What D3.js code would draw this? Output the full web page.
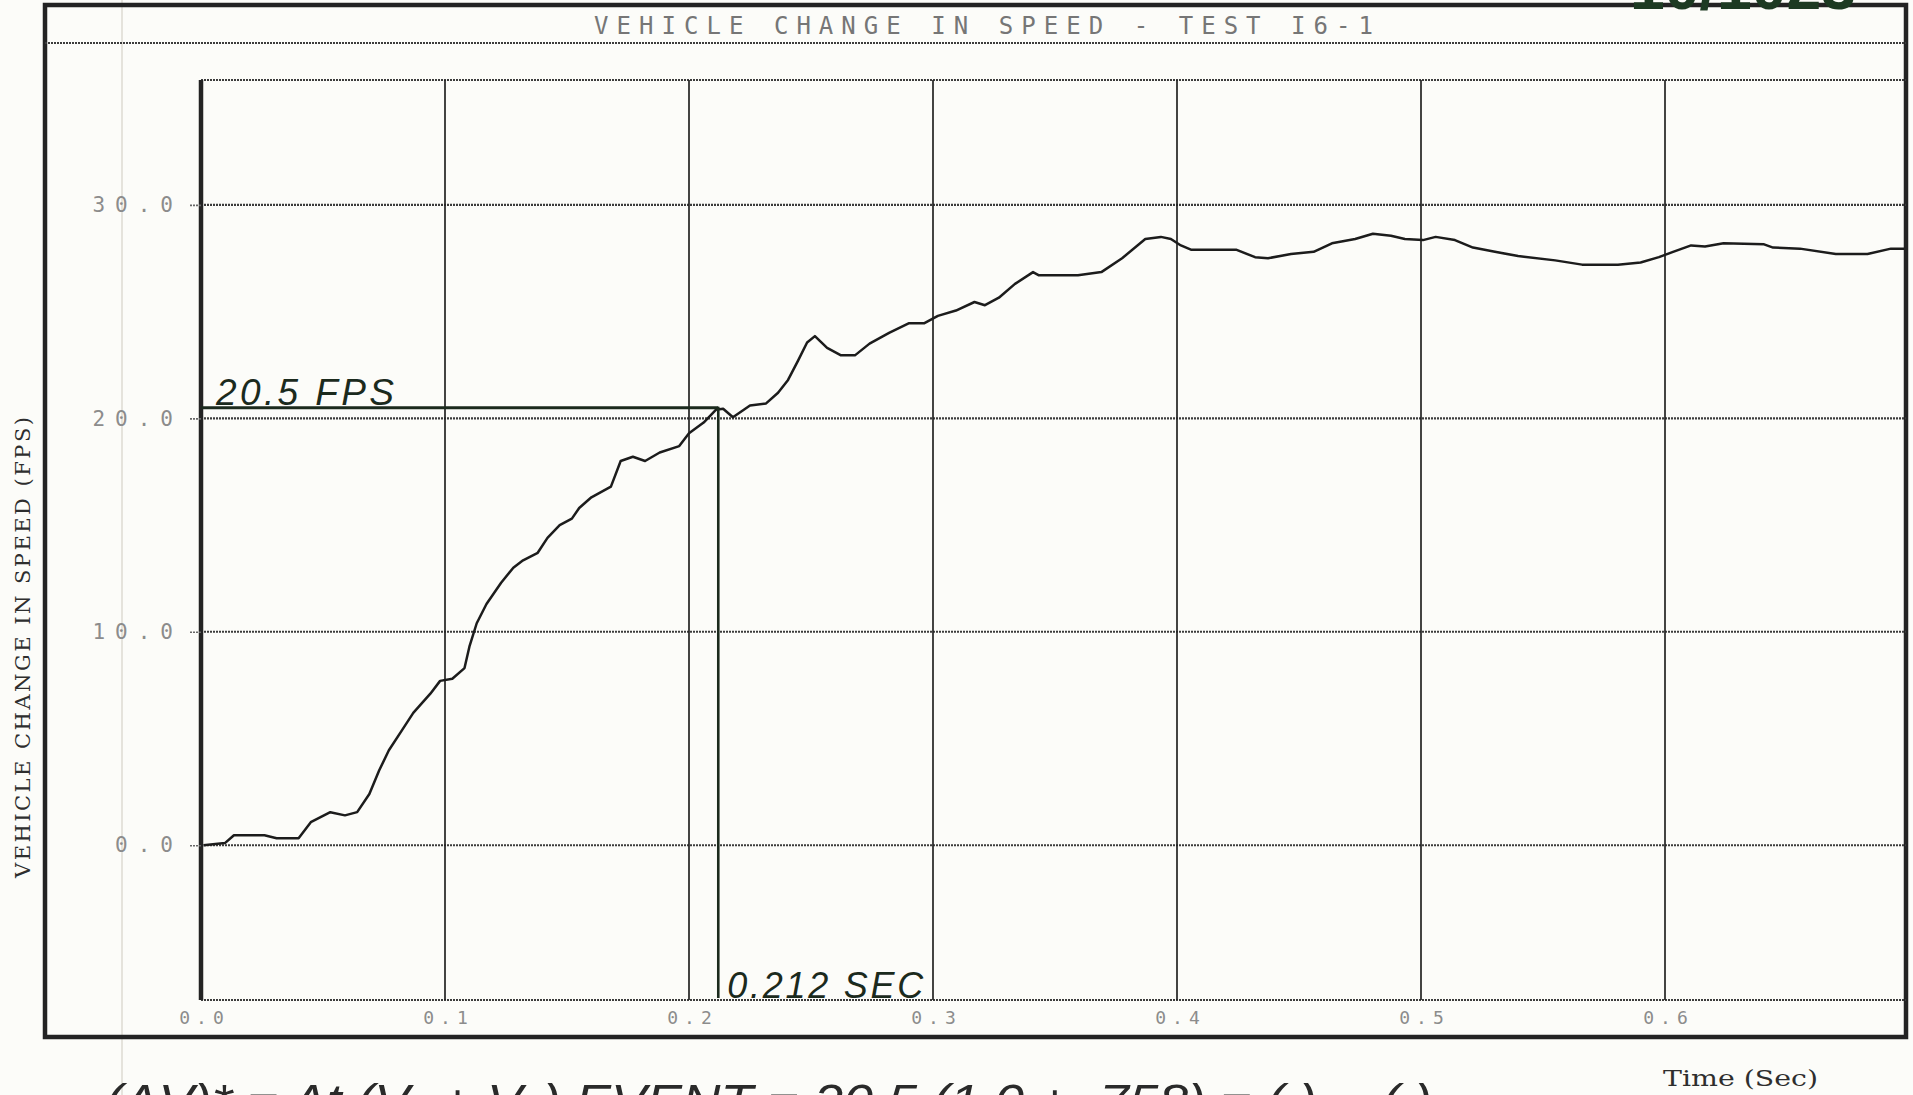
<!DOCTYPE html>
<html>
<head>
<meta charset="utf-8">
<script src="https://cdn.jsdelivr.net/npm/d3@7"></script>
<style>
  html, body { margin: 0; padding: 0; background: #fcfcf9; }
  svg { display: block; }
</style>
</head>
<body>
<svg id="chart" width="1913" height="1095"></svg>
<script>
// ---- data ----
const chartTitle = "VEHICLE CHANGE IN SPEED - TEST I6-1";
const yAxisTitle = "VEHICLE CHANGE IN SPEED (FPS)";
const xAxisTitle = "Time (Sec)";
const xTickValues = [0.0, 0.1, 0.2, 0.3, 0.4, 0.5, 0.6];
const yTickValues = [0.0, 10.0, 20.0, 30.0];
const xDomain = [0, 0.7];
const yDomain = [-7.25, 35.85];

const timeSec = [
  0.001, 0.0098, 0.0135, 0.026, 0.031, 0.040, 0.045, 0.053, 0.059, 0.064,
  0.069, 0.073, 0.077, 0.083, 0.087, 0.094, 0.098, 0.103, 0.108, 0.110,
  0.113, 0.117, 0.123, 0.128, 0.132, 0.138, 0.142, 0.147, 0.152, 0.155,
  0.160, 0.168, 0.172, 0.177, 0.182, 0.188, 0.196, 0.200, 0.206, 0.211,
  0.214, 0.218, 0.225, 0.2316, 0.2365, 0.2406, 0.2447, 0.2484, 0.2516, 0.2566,
  0.2623, 0.268, 0.274, 0.282, 0.290, 0.2963, 0.302, 0.3094, 0.317, 0.3213,
  0.327, 0.3336, 0.341, 0.3434, 0.3594, 0.369, 0.3775, 0.387, 0.3934, 0.3975,
  0.4016, 0.4057, 0.4176, 0.4242, 0.432, 0.4373, 0.4467, 0.456, 0.4635, 0.473,
  0.4803, 0.4877, 0.4934, 0.5008, 0.506, 0.5139, 0.5213, 0.5303, 0.5398, 0.555,
  0.566, 0.5807, 0.590, 0.5975, 0.6033, 0.6107, 0.6164, 0.624, 0.6406, 0.6443,
  0.6553, 0.670, 0.683, 0.6926, 0.698
];
const speedFps = [
  0.0, 0.1, 0.47, 0.47, 0.33, 0.33, 1.08, 1.55, 1.4, 1.55,
  2.4, 3.5, 4.45, 5.5, 6.2, 7.1, 7.7, 7.8, 8.3, 9.3,
  10.4, 11.3, 12.3, 13.0, 13.35, 13.7, 14.4, 15.0, 15.3, 15.8,
  16.3, 16.8, 18.0, 18.2, 18.0, 18.4, 18.7, 19.3, 19.8, 20.4,
  20.45, 20.05, 20.6, 20.7, 21.2, 21.8, 22.7, 23.55, 23.85, 23.3,
  22.95, 22.95, 23.5, 24.0, 24.45, 24.45, 24.8, 25.05, 25.45, 25.3,
  25.65, 26.3, 26.85, 26.7, 26.7, 26.85, 27.5, 28.4, 28.5, 28.4,
  28.1, 27.9, 27.9, 27.9, 27.55, 27.5, 27.7, 27.8, 28.2, 28.4,
  28.65, 28.55, 28.4, 28.35, 28.5, 28.35, 28.0, 27.8, 27.6, 27.4,
  27.2, 27.2, 27.3, 27.55, 27.8, 28.1, 28.05, 28.2, 28.15, 28.0,
  27.95, 27.7, 27.7, 27.95, 27.95
];

// handwritten annotations
const markTime = [0.212];
const markSpeed = [20.5];
const markSpeedLabel = "20.5  FPS";
const markTimeLabel = "0.212  SEC";
const cornerNote = "10/1023";
const footNote = "(ΔV)* = Δt (V₁ + V₂) EVENT = 20.5 (1.0 + .758) = ( ) ·· ( ) ·· ·· ·";

// ---- layout ----
const svg = d3.select("#chart");
const frame = { left: 45, right: 1906, top: 5, bottom: 1037 };
const plot = { left: 201, right: 1909, top: 80, bottom: 1000 };
const titleSep = 43;

const x = d3.scaleLinear().domain(xDomain).range([plot.left, plot.right]);
const y = d3.scaleLinear().domain(yDomain).range([plot.bottom, plot.top]);

const ink = "#232323";
const dotInk = "#3c3c3c";
const printGray = "#8c8c8c";
const dotFont = "DejaVu Sans Mono, monospace";
const typeFont = "DejaVu Serif, Liberation Serif, serif";

// faint scan fold line
svg.append("line")
  .attr("x1", 122).attr("x2", 122).attr("y1", 0).attr("y2", 1095)
  .attr("stroke", "#dedbd2").attr("stroke-width", 1.5);

// outer frame
svg.append("rect")
  .attr("x", frame.left).attr("y", frame.top)
  .attr("width", frame.right - frame.left).attr("height", frame.bottom - frame.top)
  .attr("fill", "none").attr("stroke", ink).attr("stroke-width", 4.5);

// title separator (dotted)
svg.append("line")
  .attr("x1", frame.left).attr("x2", frame.right).attr("y1", titleSep).attr("y2", titleSep)
  .attr("stroke", dotInk).attr("stroke-width", 2).attr("stroke-dasharray", "2,1");

// title (dot-matrix look)
svg.append("text")
  .attr("x", 594).attr("y", 34)
  .attr("textLength", 779).attr("lengthAdjust", "spacing")
  .attr("font-family", dotFont)
  .attr("font-size", 24).attr("fill", "#767676")
  .text(chartTitle);

// plot top & bottom dotted rules
[plot.top, plot.bottom].forEach(py => {
  svg.append("line")
    .attr("x1", plot.left).attr("x2", frame.right).attr("y1", py).attr("y2", py)
    .attr("stroke", dotInk).attr("stroke-width", 2.2).attr("stroke-dasharray", "2,1");
});

// horizontal gridlines (dotted)
svg.append("g").selectAll("line").data(yTickValues).join("line")
  .attr("x1", plot.left).attr("x2", frame.right)
  .attr("y1", d => y(d)).attr("y2", d => y(d))
  .attr("stroke", dotInk).attr("stroke-width", 2.1).attr("stroke-dasharray", "2,1");

// vertical gridlines (solid)
svg.append("g").selectAll("line").data(xTickValues.filter(d => d > 0)).join("line")
  .attr("x1", d => x(d)).attr("x2", d => x(d))
  .attr("y1", plot.top).attr("y2", plot.bottom)
  .attr("stroke", ink).attr("stroke-width", 1.7);

// y axis (left, thick)
svg.append("line")
  .attr("x1", x(0)).attr("x2", x(0)).attr("y1", plot.top).attr("y2", plot.bottom)
  .attr("stroke", ink).attr("stroke-width", 4.5);

// y tick labels + dashes
const labelSpacing = 10;
const yAxis = d3.axisLeft(y).tickValues(yTickValues).tickFormat(d3.format(".1f"))
  .tickSize(11).tickPadding(17);
const gy = svg.append("g").attr("transform", `translate(${plot.left},0)`).call(yAxis);
gy.select(".domain").remove();
gy.selectAll(".tick line").attr("stroke", "#666").attr("stroke-width", 1.6)
  .attr("stroke-dasharray", "2,1");
gy.selectAll(".tick text")
  .attr("font-family", dotFont).attr("font-size", 21)
  .attr("fill", printGray)
  .attr("letter-spacing", labelSpacing)
  .attr("x", -(11 + 17) + labelSpacing);

// x tick labels
const xAxis = d3.axisBottom(x).tickValues(xTickValues).tickFormat(d3.format(".1f"))
  .tickSize(0).tickPadding(11);
const gx = svg.append("g").attr("transform", `translate(0,${plot.bottom})`).call(xAxis);
gx.select(".domain").remove();
gx.selectAll(".tick text")
  .attr("font-family", dotFont).attr("font-size", 18)
  .attr("fill", printGray)
  .attr("letter-spacing", 6)
  .attr("x", 3);

// axis titles
svg.append("text")
  .attr("transform", `translate(30,${(417 + 878) / 2}) rotate(-90)`)
  .attr("text-anchor", "middle")
  .attr("textLength", 461).attr("lengthAdjust", "spacing")
  .attr("font-family", typeFont).attr("font-size", 21)
  .attr("fill", "#2e2e2e")
  .text(yAxisTitle);

svg.append("text")
  .attr("x", 1663).attr("y", 1086)
  .attr("textLength", 155).attr("lengthAdjust", "spacingAndGlyphs")
  .attr("font-family", typeFont).attr("font-size", 22)
  .attr("fill", "#2e2e2e")
  .text(xAxisTitle);

// data curve
const pts = timeSec.map((t, i) => [t, speedFps[i]]);
const line = d3.line().x(d => x(d[0])).y(d => y(d[1])).curve(d3.curveLinear);
svg.append("path")
  .datum(pts)
  .attr("d", line)
  .attr("fill", "none").attr("stroke", "#1c1c1c").attr("stroke-width", 2.5)
  .attr("stroke-linejoin", "round");

// handwritten marker lines
const hand = "#1b2a1d";
svg.append("line")
  .attr("x1", x(0)).attr("x2", x(markTime[0]))
  .attr("y1", y(markSpeed[0])).attr("y2", y(markSpeed[0]))
  .attr("stroke", hand).attr("stroke-width", 3);
svg.append("line")
  .attr("x1", x(markTime[0])).attr("x2", x(markTime[0]))
  .attr("y1", y(markSpeed[0]) - 1).attr("y2", plot.bottom - 2)
  .attr("stroke", hand).attr("stroke-width", 2.6);

svg.append("text")
  .attr("x", x(0) + 15).attr("y", y(markSpeed[0]) - 3)
  .attr("textLength", 178).attr("lengthAdjust", "spacing")
  .attr("font-family", "Liberation Sans, sans-serif").attr("font-style", "italic")
  .attr("font-size", 37).attr("fill", hand)
  .text(markSpeedLabel);

svg.append("text")
  .attr("x", x(markTime[0]) + 9).attr("y", plot.bottom - 2)
  .attr("textLength", 196).attr("lengthAdjust", "spacing")
  .attr("font-family", "Liberation Sans, sans-serif").attr("font-style", "italic")
  .attr("font-size", 36).attr("fill", hand)
  .text(markTimeLabel);

// corner note (top right) and foot note (bottom), cut by the page edge as in the scan
svg.append("text")
  .attr("x", 1630).attr("y", 9)
  .attr("textLength", 226).attr("lengthAdjust", "spacingAndGlyphs")
  .attr("font-family", "Liberation Sans, sans-serif").attr("font-weight", "bold")
  .attr("font-size", 64).attr("fill", "#1d3a22")
  .text(cornerNote);

svg.append("text")
  .attr("x", 105).attr("y", 1118)
  .attr("textLength", 1460).attr("lengthAdjust", "spacingAndGlyphs")
  .attr("font-family", "Liberation Sans, sans-serif").attr("font-style", "italic")
  .attr("font-size", 48).attr("fill", "#2a2a2a")
  .text(footNote);
</script>
</body>
</html>
